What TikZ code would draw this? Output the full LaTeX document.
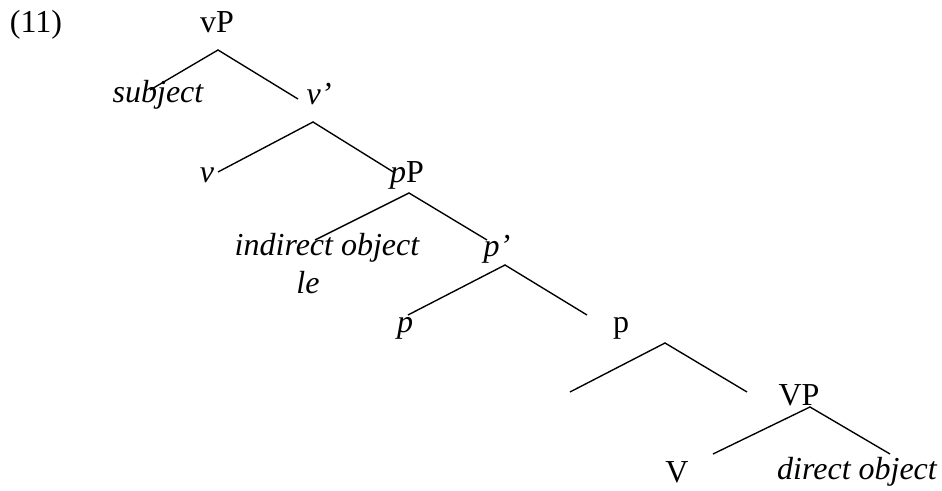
\documentclass[tikz,border=0pt]{standalone}
\usepackage{fontspec}
\setmainfont{Liberation Serif}
\tikzset{
  lbl/.style={anchor=base, inner sep=0pt, font=\fontsize{12.8}{15}\selectfont},
  ilbl/.style={anchor=base, inner sep=0pt, font=\fontsize{12.8}{15}\selectfont\itshape},
  branch/.style={line width=0.55pt, color=black}
}

\begin{document}
\begin{tikzpicture}[x=0.4pt, y=-0.4pt]
  \useasboundingbox (0,0) rectangle (942,491);

  % Labels
  \node[lbl] (exnum) at (36,33) {(11)};
  \node[lbl] (vP) at (217,33) {vP};
  \node[ilbl] (subj) at (158,103) {subject};
  \node[ilbl] (vbar) at (319,105) {v'};
  \node[ilbl] (vhead) at (207,183) {v};
  \node[lbl] (pP) at (407,183) {\textit{p}P};
  \node[ilbl] (iobj) at (327,256) {indirect object};
  \node[ilbl] (le) at (308,294) {le};
  \node[ilbl] (pbar) at (497,257) {p'};
  \node[ilbl] (phead) at (405,333) {p};
  \node[lbl] (pcomp) at (621,333) {p};
  \node[lbl] (VP) at (799,406) {VP};
  \node[lbl] (Vhead) at (677,483) {V};
  \node[ilbl] (dobj) at (857,480) {direct object};

  % Branch ends
  \coordinate (vPtop) at (218,50);
  \coordinate (vPleft) at (150,90);
  \coordinate (vPright) at (298,99);
  \coordinate (vbartop) at (313,122);
  \coordinate (vbarleft) at (218,172);
  \coordinate (vbarright) at (395,173);
  \coordinate (pPtop) at (409,193);
  \coordinate (pPleft) at (315,240);
  \coordinate (pPright) at (487,240);
  \coordinate (pbartop) at (505,265);
  \coordinate (pbarleft) at (408,315);
  \coordinate (pbarright) at (587,315);
  \coordinate (ptop) at (665,343);
  \coordinate (pleft) at (570,392);
  \coordinate (pright) at (747,392);
  \coordinate (VPtop) at (810,407);
  \coordinate (VPleft) at (713,454);
  \coordinate (VPright) at (890,454);

  % Branches
  \draw[branch] (vPleft) -- (vPtop) -- (vPright);
  \draw[branch] (vbarleft) -- (vbartop) -- (vbarright);
  \draw[branch] (pPleft) -- (pPtop) -- (pPright);
  \draw[branch] (pbarleft) -- (pbartop) -- (pbarright);
  \draw[branch] (pleft) -- (ptop) -- (pright);
  \draw[branch] (VPleft) -- (VPtop) -- (VPright);
\end{tikzpicture}
\end{document}
